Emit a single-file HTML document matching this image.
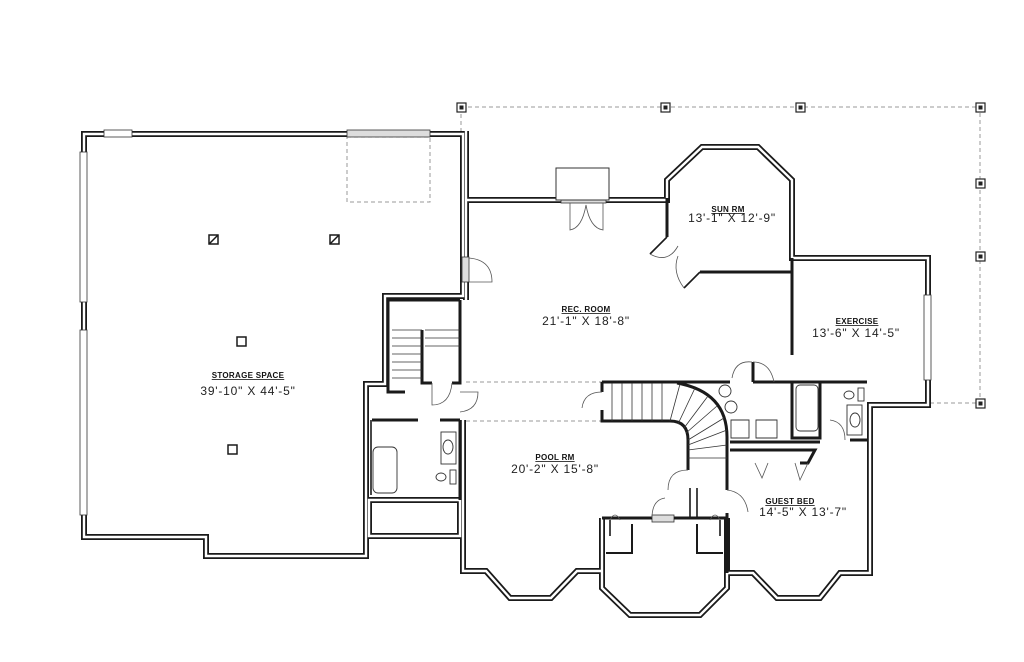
<!DOCTYPE html>
<html><head><meta charset="utf-8"><style>
html,body{margin:0;padding:0;background:#fff;}
svg{display:block;}
.t{font-family:"Liberation Sans",sans-serif;font-size:8px;font-weight:bold;text-decoration:underline;fill:#111;letter-spacing:0.3px;}
.d{font-family:"Liberation Sans",sans-serif;font-size:12px;fill:#222;letter-spacing:0.8px;}
</style></head><body>
<svg width="1024" height="662" viewBox="0 0 1024 662" xmlns="http://www.w3.org/2000/svg">
<rect width="1024" height="662" fill="#fff"/>
<g fill="none" stroke="#999" stroke-width="1" stroke-dasharray="4,3">
<path d="M461 107 H980 V403 H930"/>
<path d="M461 107 V131"/>
<rect x="347" y="137" width="83" height="65"/>
<path d="M466 382 H602 M466 421 H602"/>
</g>
<g fill="#fff" stroke="#222" stroke-width="1.2">
<rect x="457" y="103" width="9" height="9"/><rect x="661" y="103" width="9" height="9"/><rect x="796" y="103" width="9" height="9"/><rect x="976" y="103" width="9" height="9"/><rect x="976" y="179" width="9" height="9"/><rect x="976" y="252" width="9" height="9"/><rect x="976" y="399" width="9" height="9"/>
</g>
<g fill="#222"><rect x="459.5" y="105.5" width="4" height="4"/><rect x="663.5" y="105.5" width="4" height="4"/><rect x="798.5" y="105.5" width="4" height="4"/><rect x="978.5" y="105.5" width="4" height="4"/><rect x="978.5" y="181.5" width="4" height="4"/><rect x="978.5" y="254.5" width="4" height="4"/><rect x="978.5" y="401.5" width="4" height="4"/></g>

<g fill="none" stroke-linejoin="miter">
<g stroke="#1a1a1a" stroke-width="6">
<path d="M84 537 V134 H463 V296 H385 V384 H366 V556 H206 V537 Z"/>
<path d="M466 200 H667 V180 L702 147 H758 L792 180 V258 H928 V405 H870 V573 H840 L820 598 H777 L753 573 H727"/>
<path d="M466 131 V300"/>
<path d="M463 420 V571 H486 L510 598 H551 L577 571 H602"/>
<path d="M602 518 V588 L630 615 H700 L727 588 V518"/>
<path d="M369 500 H460 V536 H369 Z"/>
</g>
<g stroke="#fff" stroke-width="2.4">
<path d="M84 537 V134 H463 V296 H385 V384 H366 V556 H206 V537 Z"/>
<path d="M466 200 H667 V180 L702 147 H758 L792 180 V258 H928 V405 H870 V573 H840 L820 598 H777 L753 573 H727"/>
<path d="M466 131 V300"/>
<path d="M463 420 V571 H486 L510 598 H551 L577 571 H602"/>
<path d="M602 518 V588 L630 615 H700 L727 588 V518"/>
<path d="M369 500 H460 V536 H369 Z"/>
</g>
</g>
<!-- center bay inner neck -->
<path d="M606 553 H632 V524 M697 524 V553 H723" fill="none" stroke="#1a1a1a" stroke-width="2"/>
<g fill="#ddd" stroke="#333" stroke-width="0.8">
<rect x="347" y="130" width="83" height="7"/>
<rect x="561" y="196" width="45" height="7"/>
<rect x="462" y="257" width="7" height="25"/>
<rect x="652" y="515" width="22" height="7"/>
</g>
<g fill="#fff" stroke="#333" stroke-width="0.8">
<rect x="104" y="130" width="28" height="7"/>
<rect x="80" y="152" width="7" height="150"/><rect x="80" y="330" width="7" height="185"/>
<rect x="924" y="295" width="7" height="85"/>
</g>
<rect x="556" y="168" width="53" height="32" fill="#fff" stroke="#333" stroke-width="1"/>

<g fill="none" stroke="#1a1a1a" stroke-width="3">
<path d="M667 198 V237"/>
<path d="M700 272 H792"/>
<path d="M792 258 V355"/>
<path d="M602 382 H730 M753 382 H867 M753 382 V362"/>
<path d="M602 382 V392 M602 410 V421 H670 Q688 421 688 440 V470"/>
<path d="M677 383 Q727 392 727 437 V490 M727 513 V573"/>
<path d="M730 442 H820 M730 450 H815 L808 463 H800"/>
<path d="M792 383 V438 H820 V383"/>
<path d="M850 440 H868"/>
<path d="M388 300 H460 M388 300 V392 H405"/>
<path d="M422 330 V383 H432"/>
<path d="M460 300 V383 H452 M460 420 V500"/>
<path d="M372 420 H418 M440 420 H460"/>
<path d="M602 518 H652 M674 518 H727"/>
</g>
<g fill="none" stroke="#1a1a1a" stroke-width="1.6">
<path d="M667 237 L650 254"/>
<path d="M700 272 L684 288"/>
<path d="M610 536 V520 M720 536 V520"/>
<path d="M690 488 V518 M697 488 V518"/>
<path d="M371 420 V495"/>
</g>
<g fill="none" stroke="#555" stroke-width="0.8">
<path d="M570 203 V230 Q582 228 586 205 Q590 228 603 230 V203"/>
<path d="M469 282 H492 Q492 260 469 258"/>
<path d="M650 254 Q668 264 678 246"/>
<path d="M684 288 Q672 272 678 256"/>
<path d="M752 362 Q735 360 732 378 M753 362 Q770 362 774 382"/>
<path d="M602 392 Q584 392 582 408"/>
<path d="M432 383 V405 Q450 405 452 383"/>
<path d="M460 392 H478 Q478 410 460 412"/>
<path d="M688 470 Q668 470 668 490"/>
<path d="M727 490 Q745 492 748 512"/>
<path d="M610 520 Q615 510 620 520 M720 520 Q715 510 710 520"/>
<path d="M652 518 Q652 500 665 498"/>
<path d="M808 463 L800 480 L795 463 M768 463 L762 478 L755 463"/>
<path d="M830 420 Q845 422 845 440"/>
</g>
<g stroke="#333" stroke-width="0.8">
<path d="M612 383 V421 M622 383 V421 M632 383 V421 M642 383 V421 M652 383 V421 M662 383 V421"/>
<path d="M680 384 L670 421 M695 388 L678 424 M708 396 L684 428 M717 406 L686 433 M724 418 L688 440 M727 430 L688 445 M727 445 L688 450 M727 458 L688 458"/>
<path d="M392 330 H422 M392 338 H422 M392 346 H422 M392 354 H422 M392 362 H422 M392 370 H422 M392 378 H422 M425 330 H460 M425 338 H460 M425 346 H460"/>
</g>
<g fill="none" stroke="#333" stroke-width="0.9">
<rect x="373" y="447" width="24" height="46" rx="5"/>
<rect x="441" y="432" width="15" height="32"/><ellipse cx="448" cy="447" rx="5" ry="7"/>
<ellipse cx="441" cy="477" rx="5" ry="4"/><rect x="450" y="470" width="6" height="14"/>
<rect x="796" y="385" width="22" height="46" rx="4"/>
<rect x="847" y="405" width="15" height="30"/><ellipse cx="855" cy="420" rx="5" ry="7"/>
<ellipse cx="849" cy="395" rx="5" ry="4"/><rect x="858" y="388" width="6" height="13"/>
<circle cx="725" cy="391" r="6"/><circle cx="731" cy="407" r="6"/>
<path d="M731 420 H749 V438 H731 Z M756 420 H777 V438 H756 Z"/>
</g>
<g fill="#fff" stroke="#1a1a1a" stroke-width="1.5">
<rect x="209" y="235" width="9" height="9"/><rect x="330" y="235" width="9" height="9"/>
<rect x="237" y="337" width="9" height="9"/><rect x="228" y="445" width="9" height="9"/>
</g>
<path d="M209 244 L218 235 M330 244 L339 235" stroke="#1a1a1a" stroke-width="1.5"/>
<g text-anchor="middle">
<text class="t" x="248" y="378">STORAGE SPACE</text>
<text class="d" x="248" y="395">39'-10" X 44'-5"</text>
<text class="t" x="586" y="312">REC. ROOM</text>
<text class="d" x="586" y="325">21'-1" X 18'-8"</text>
<text class="t" x="728" y="212">SUN RM</text>
<text class="d" x="732" y="222">13'-1" X 12'-9"</text>
<text class="t" x="857" y="324">EXERCISE</text>
<text class="d" x="856" y="337">13'-6" X 14'-5"</text>
<text class="t" x="555" y="460">POOL RM</text>
<text class="d" x="555" y="473">20'-2" X 15'-8"</text>
<text class="t" x="790" y="504">GUEST BED</text>
<text class="d" x="803" y="516">14'-5" X 13'-7"</text>
</g>
</svg>
</body></html>
